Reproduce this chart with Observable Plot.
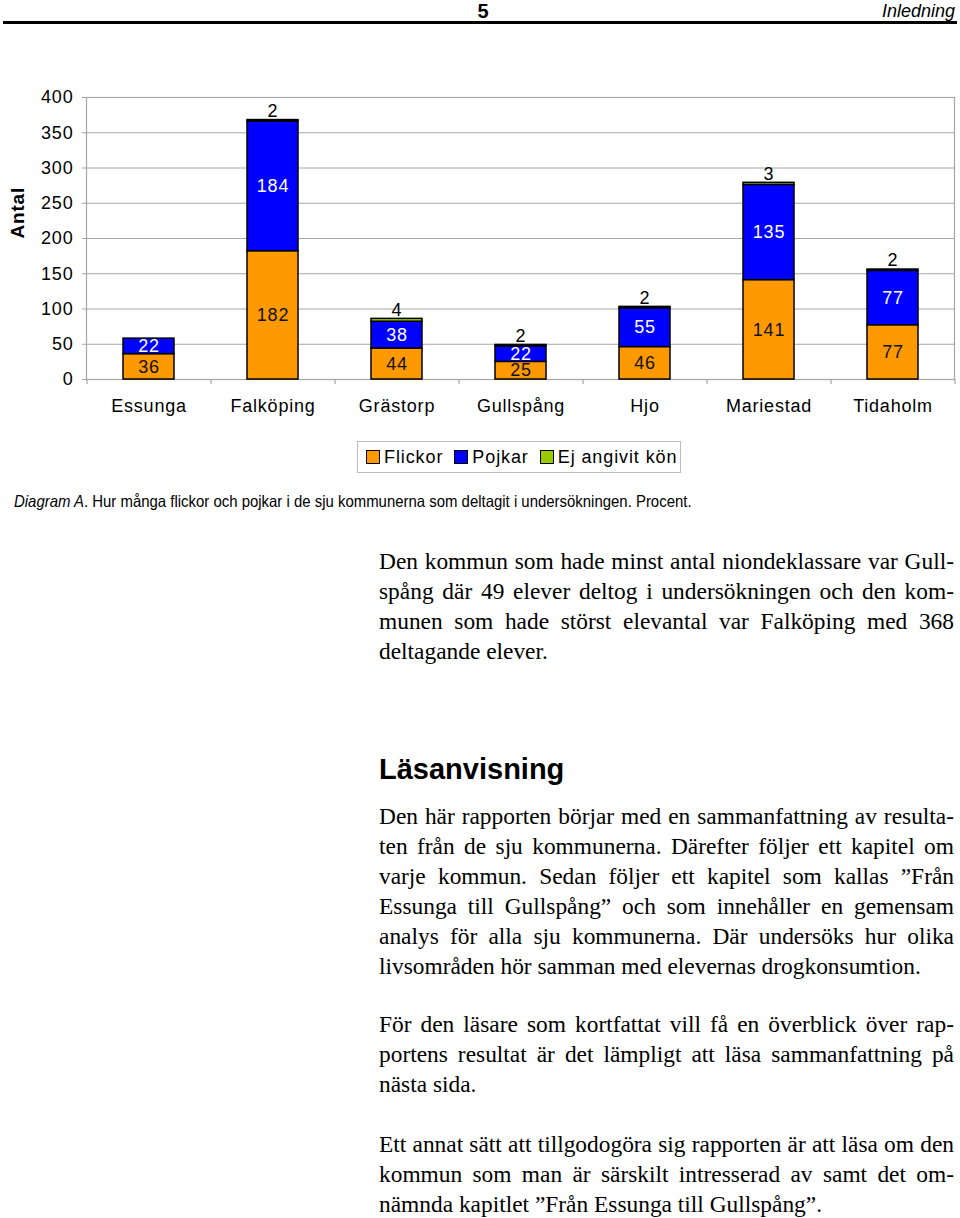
<!DOCTYPE html>
<html>
<head>
<meta charset="utf-8">
<script src="https://cdn.jsdelivr.net/npm/d3@7"></script>
<script src="https://cdn.jsdelivr.net/npm/@observablehq/plot@0.6"></script>
<style>
  html, body { margin: 0; padding: 0; background: #fff; }
  body { width: 960px; height: 1218px; position: relative; overflow: hidden; color: #000; }
  .abs { position: absolute; }
  #hdrline { left: 3px; top: 21px; width: 954px; height: 3px; background: #000; }
  #pagenum { left: 470px; top: 0px; width: 26px; text-align: center; font: bold 20px "Liberation Sans", Arial, sans-serif; }
  #section { right: 5px; top: 1px; font: italic 18px "Liberation Sans", Arial, sans-serif; }
  #chart { left: 0; top: 80px; }
  #legend { left: 357px; top: 441px; width: 322px; height: 30px; border: 1px solid #bdbdbd;
    display: flex; align-items: center; font: 18px "Liberation Sans", Arial, sans-serif; letter-spacing: 0.9px; }
  .item { display: flex; align-items: center; margin-left: 11px; }
  .item:first-child { margin-left: 8px; }
  .sw { width: 12px; height: 12px; border: 1px solid #000; margin-right: 4px; }
  #caption { left: 14px; top: 492px; font: 16.5px "Liberation Sans", Arial, sans-serif; white-space: nowrap;
    transform: scaleX(0.905); transform-origin: 0 0; }
  .txt { left: 379px; width: 575px; font: 23.4px "Liberation Serif", "Times New Roman", serif; line-height: 30px; }
  .ln { text-align: justify; text-align-last: justify; white-space: nowrap; word-spacing: -3px; }
  .ln.last { text-align: left; text-align-last: left; word-spacing: 0; }
  #heading { left: 379px; top: 753px; font: bold 29px "Liberation Sans", Arial, sans-serif; }
</style>
</head>
<body>
<div id="hdrline" class="abs"></div>
<div id="pagenum" class="abs">5</div>
<div id="section" class="abs">Inledning</div>
<div id="chart" class="abs"></div>
<div id="legend" class="abs"></div>
<div id="caption" class="abs"><i>Diagram A</i>. Hur många flickor och pojkar i de sju kommunerna som deltagit i undersökningen. Procent.</div>
<div id="p1" class="abs txt" style="top:546px"></div>
<div id="heading" class="abs">Läsanvisning</div>
<div id="p2" class="abs txt" style="top:801px"></div>
<div id="p3" class="abs txt" style="top:1009px"></div>
<div id="p4" class="abs txt" style="top:1129px"></div>
<script>
// ---- data ----
const kommuner = ["Essunga", "Falköping", "Grästorp", "Gullspång", "Hjo", "Mariestad", "Tidaholm"];
const series = ["Flickor", "Pojkar", "Ej angivit kön"];
const flickor = [36, 182, 44, 25, 46, 141, 77];
const pojkar = [22, 184, 38, 22, 55, 135, 77];
const ejAngivit = [0, 2, 4, 2, 2, 3, 2];
const seriesColors = ["#FF9900", "#0000FF", "#99CC00"];
const yTicks = [0, 50, 100, 150, 200, 250, 300, 350, 400];

const p1Lines = [
  "Den kommun som hade minst antal niondeklassare var Gull-",
  "spång där 49 elever deltog i undersökningen och den kom-",
  "munen som hade störst elevantal var Falköping med 368",
  "deltagande elever."
];
const p2Lines = [
  "Den här rapporten börjar med en sammanfattning av resulta-",
  "ten från de sju kommunerna. Därefter följer ett kapitel om",
  "varje kommun. Sedan följer ett kapitel som kallas ”Från",
  "Essunga till Gullspång” och som innehåller en gemensam",
  "analys för alla sju kommunerna. Där undersöks hur olika",
  "livsområden hör samman med elevernas drogkonsumtion."
];
const p3Lines = [
  "För den läsare som kortfattat vill få en överblick över rap-",
  "portens resultat är det lämpligt att läsa sammanfattning på",
  "nästa sida."
];
const p4Lines = [
  "Ett annat sätt att tillgodogöra sig rapporten är att läsa om den",
  "kommun som man är särskilt intresserad av samt det om-",
  "nämnda kapitlet ”Från Essunga till Gullspång”."
];

// ---- long table ----
const valuesBySeries = [flickor, pojkar, ejAngivit];
const rows = [];
kommuner.forEach((k, i) => {
  series.forEach((s, j) => rows.push({kommun: k, serie: s, value: valuesBySeries[j][i]}));
});

// ---- chart ----
const W = 960, H = 345;
const mL = 86, mR = 6, mT = 17, mB = 46;
const step = (W - mL - mR) / kommuner.length;
const gray = "#a6a6a6";

const chart = Plot.plot({
  width: W, height: H,
  marginLeft: mL, marginRight: mR, marginTop: mT, marginBottom: mB,
  style: {fontFamily: "Liberation Sans, Arial, sans-serif", fontSize: "18px", color: "#000", background: "white", letterSpacing: "0.8px"},
  x: {domain: kommuner, paddingInner: 0.59, paddingOuter: 0.295, align: 0.5, label: null},
  y: {domain: [0, 400], label: null},
  color: {domain: series, range: seriesColors},
  marks: [
    Plot.gridY(yTicks, {stroke: gray, strokeOpacity: 1, strokeWidth: 1}),
    Plot.frame({stroke: gray, strokeWidth: 1.2}),
    Plot.ruleX(kommuner, {x: d => d, dx: -step / 2, y1: 0, y2: 0, insetBottom: -5, stroke: gray, strokeWidth: 1.2}),
    Plot.ruleX(kommuner.slice(-1), {x: d => d, dx: step / 2, y1: 0, y2: 0, insetBottom: -5, stroke: gray, strokeWidth: 1.2}),
    Plot.axisY(yTicks, {tickSize: 4, tickPadding: 9, stroke: gray, label: null, fontSize: 18}),
    Plot.axisX({tickSize: 0, tickPadding: 20, label: null, fontSize: 18}),
    Plot.text(["Antal"], {frameAnchor: "left", rotate: -90, dx: -69, fontWeight: "bold", fontSize: 19, letterSpacing: 0}),
    Plot.barY(rows, {x: "kommun", y: "value", fill: "serie", stroke: "#000", strokeWidth: 1.5}),
    Plot.text(rows, Plot.stackY({x: "kommun", y: "value", text: d => d.serie === series[0] ? d.value : "", fill: "#111", fontSize: 18})),
    Plot.text(rows, Plot.stackY({x: "kommun", y: "value", text: d => d.serie === series[1] ? d.value : "", fill: "#fff", fontSize: 18})),
    Plot.text(rows, Plot.stackY2({x: "kommun", y: "value", text: d => d.serie === series[2] && d.value > 0 ? d.value : "", fill: "#000", fontSize: 18, dy: -9}))
  ]
});
document.getElementById("chart").appendChild(chart);

// ---- legend ----
const legend = document.getElementById("legend");
series.forEach((s, i) => {
  const it = document.createElement("div");
  it.className = "item";
  const sw = document.createElement("div");
  sw.className = "sw";
  sw.style.background = seriesColors[i];
  it.appendChild(sw);
  it.appendChild(document.createTextNode(s));
  legend.appendChild(it);
});

// ---- body text ----
function fill(id, lines) {
  const el = document.getElementById(id);
  lines.forEach((t, i) => {
    const d = document.createElement("div");
    d.className = "ln" + (i === lines.length - 1 ? " last" : "");
    d.textContent = t;
    el.appendChild(d);
  });
}
fill("p1", p1Lines);
fill("p2", p2Lines);
fill("p3", p3Lines);
fill("p4", p4Lines);
</script>
</body>
</html>
